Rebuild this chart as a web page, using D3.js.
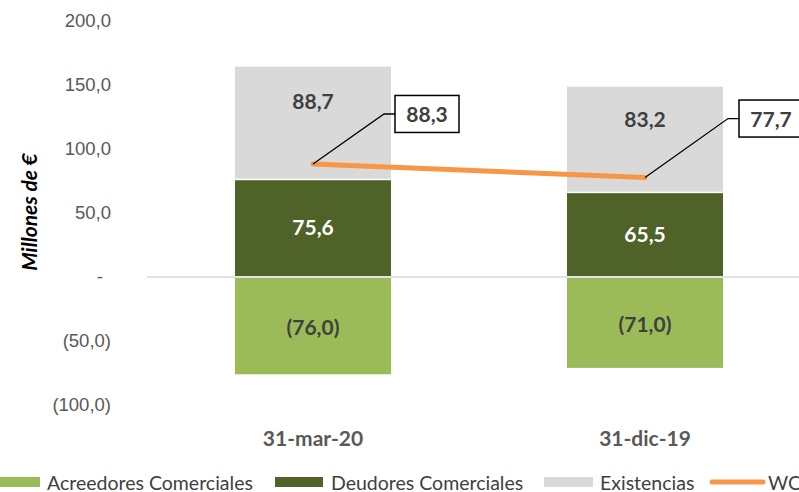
<!DOCTYPE html>
<html>
<head>
<meta charset="utf-8">
<script src="https://cdn.jsdelivr.net/npm/d3@7"></script>
<style>
  body { margin: 0; background: #fff; }
  svg { font-family: Lato, "Open Sans", sans-serif; display: block; }
</style>
</head>
<body>
<div id="chart"></div>
<script>
// Data
const categories = ['31-mar-20', '31-dic-19'];
const acreedores = [-76.0, -71.0];
const deudores = [75.6, 65.5];
const existencias = [88.7, 83.2];
const wc = [88.3, 77.7];
const yTicks = [200, 150, 100, 50, 0, -50, -100];
const legendItems = ['Acreedores Comerciales', 'Deudores Comerciales', 'Existencias', 'WC'];

const colors = { acre: '#9bbb59', deud: '#4f6228', exis: '#d9d9d9', wc: '#f79646' };

const width = 799, height = 492;
const svg = d3.select('#chart').append('svg')
    .attr('width', width)
    .attr('height', height);

const fmt = v => {
    const s = Math.abs(v).toFixed(1).replace('.', ',');
    return v < 0 ? `(${s})` : s;
};
const tickFmt = v => v === 0 ? '-' : fmt(v);

// Scales
const x = d3.scaleBand()
    .domain(categories)
    .range([147, 811])
    .paddingInner(0.53)
    .paddingOuter(0.265);

const y = d3.scaleLinear()
    .domain([-100, 200])
    .range([405, 21]);

// Y tick labels
const yAxis = svg.append('g')
    .attr('transform', 'translate(111,0)')
    .call(d3.axisLeft(y).tickValues(yTicks).tickFormat(tickFmt).tickSize(0).tickPadding(0));
yAxis.select('.domain').remove();
yAxis.selectAll('text')
    .attr('fill', '#595959')
    .style('font-size', '18.5px');
yAxis.selectAll('.tick').filter(d => d === 0).select('text').attr('dx', '-8');

// Y title
svg.append('text')
    .attr('transform', 'translate(37,212) rotate(-90)')
    .attr('text-anchor', 'middle')
    .style('font-size', '21px')
    .style('font-weight', 'bold')
    .style('font-style', 'italic')
    .attr('fill', '#000')
    .text('Millones de €');

// Zero line
svg.append('line')
    .attr('x1', 147).attr('x2', width)
    .attr('y1', y(0)).attr('y2', y(0))
    .attr('stroke', '#d9d9d9')
    .attr('stroke-width', 1.5);

// Bars
const bars = svg.append('g');
categories.forEach((c, i) => {
    const bx = x(c), bw = x.bandwidth();
    // Acreedores (negative)
    bars.append('rect')
        .attr('x', bx).attr('width', bw)
        .attr('y', y(0) + 1).attr('height', y(acreedores[i]) - y(0) - 1)
        .attr('fill', colors.acre);
    // Deudores
    bars.append('rect')
        .attr('x', bx).attr('width', bw)
        .attr('y', y(deudores[i])).attr('height', y(0) - y(deudores[i]) - 1)
        .attr('fill', colors.deud);
    // Existencias
    const top = deudores[i] + existencias[i];
    bars.append('rect')
        .attr('x', bx).attr('width', bw)
        .attr('y', y(top)).attr('height', y(deudores[i]) - y(top) - 1.5)
        .attr('fill', colors.exis);

    const cx = bx + bw / 2;
    const lbl = (text, yy, fill) => svg.append('text')
        .attr('x', cx).attr('y', yy)
        .attr('text-anchor', 'middle')
        .attr('dominant-baseline', 'central')
        .style('font-size', '21px')
        .style('font-weight', 'bold')
        .attr('fill', fill)
        .text(text);
    lbl(fmt(existencias[i]), y(top) + 0.3 * (y(deudores[i]) - y(top)), '#404040');
    lbl(fmt(deudores[i]), (y(deudores[i]) + y(0)) / 2 - 2, '#fff');
    lbl(fmt(acreedores[i]), (y(acreedores[i]) + y(0)) / 2 + 1, '#404040');

    // Category label
    svg.append('text')
        .attr('x', cx).attr('y', 437)
        .attr('text-anchor', 'middle')
        .attr('dominant-baseline', 'central')
        .style('font-size', '21px')
        .style('font-weight', 'bold')
        .attr('fill', '#595959')
        .text(c);
});

// WC line
const line = d3.line()
    .x((d, i) => x(categories[i]) + x.bandwidth() / 2)
    .y(d => y(d));
svg.append('path')
    .datum(wc)
    .attr('d', line)
    .attr('fill', 'none')
    .attr('stroke', colors.wc)
    .attr('stroke-width', 5)
    .attr('stroke-linecap', 'round');

// WC callouts
const callouts = [
    { dx: 71, dy: -50, bw: 64, bh: 37 },
    { dx: 83, dy: -59, bw: 64, bh: 37 }
];
wc.forEach((v, i) => {
    const px = x(categories[i]) + x.bandwidth() / 2;
    const py = y(v);
    const c = callouts[i];
    const ex = px + c.dx, ey = py + c.dy;
    svg.append('path')
        .attr('d', `M${px},${py}L${ex},${ey}L${ex + 11},${ey}`)
        .attr('fill', 'none')
        .attr('stroke', '#000')
        .attr('stroke-width', 1.3);
    svg.append('rect')
        .attr('x', ex + 11).attr('y', ey - c.bh / 2)
        .attr('width', c.bw).attr('height', c.bh)
        .attr('fill', '#fff')
        .attr('stroke', '#000')
        .attr('stroke-width', 1.5);
    svg.append('text')
        .attr('x', ex + 11 + c.bw / 2).attr('y', ey)
        .attr('text-anchor', 'middle')
        .attr('dominant-baseline', 'central')
        .style('font-size', '21px')
        .style('font-weight', 'bold')
        .attr('fill', '#404040')
        .text(fmt(v));
});

// Legend
const legendPos = [
    { sx: 0, sw: 40, tx: 47, kind: 'rect', color: colors.acre },
    { sx: 275, sw: 48, tx: 331, kind: 'rect', color: colors.deud },
    { sx: 544, sw: 49, tx: 600, kind: 'rect', color: colors.exis },
    { sx: 710, sw: 55, tx: 768, kind: 'line', color: colors.wc }
];
const ly = 482;
legendItems.forEach((name, i) => {
    const p = legendPos[i];
    if (p.kind === 'rect') {
        svg.append('rect')
            .attr('x', p.sx).attr('y', ly - 5)
            .attr('width', p.sw).attr('height', 10)
            .attr('fill', p.color);
    } else {
        svg.append('line')
            .attr('x1', p.sx + 2).attr('x2', p.sx + p.sw - 2)
            .attr('y1', ly).attr('y2', ly)
            .attr('stroke', p.color)
            .attr('stroke-width', 5)
            .attr('stroke-linecap', 'round');
    }
    svg.append('text')
        .attr('x', p.tx).attr('y', ly)
        .attr('dominant-baseline', 'central')
        .style('font-size', '19.5px')
        .attr('fill', '#404040')
        .text(name);
});
</script>
</body>
</html>
